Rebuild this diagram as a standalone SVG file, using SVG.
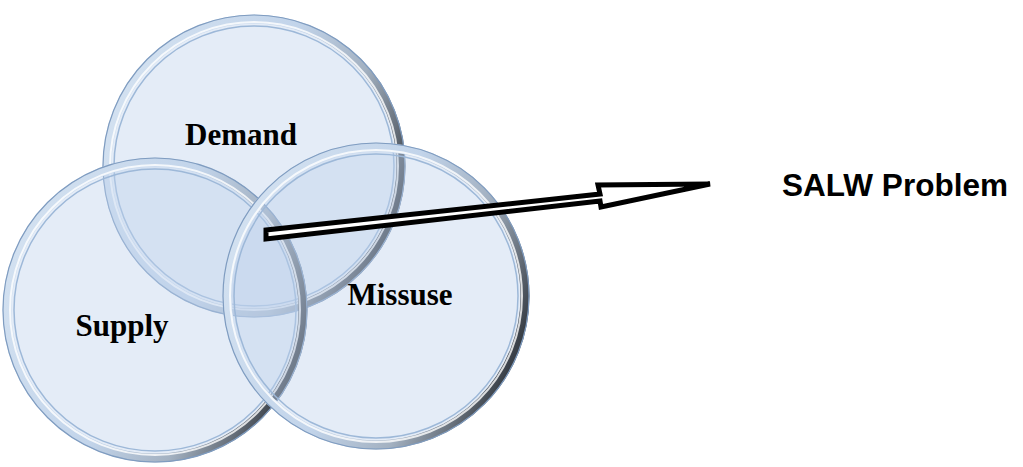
<svg xmlns="http://www.w3.org/2000/svg" width="1023" height="467" viewBox="0 0 1023 467">
<style>
.fillc{fill:rgb(190,210,235);fill-opacity:0.42}
.ring{fill:none;stroke:url(#ringg);stroke-width:9}
.hl{fill:none;stroke:#ffffff;stroke-opacity:0.8;stroke-width:2}
.inner{fill:none;stroke:#9db8d8;stroke-width:1.5}
.outer{fill:none;stroke:#7f9cc0;stroke-width:1.2}
.lbl{font-family:"Liberation Serif","Times New Roman",serif;font-weight:bold;font-size:31px;fill:#000}
.title{font-family:"Liberation Sans",Arial,sans-serif;font-weight:bold;font-size:32px;fill:#000}
</style>
<defs>
<linearGradient id="ringg" x1="0" y1="0.2" x2="1" y2="0.6">
<stop offset="0" stop-color="#d4e2f1"/>
<stop offset="0.5" stop-color="#c2d4ea"/>
<stop offset="0.75" stop-color="#a3b1c1"/>
<stop offset="0.9" stop-color="#6a737e"/>
<stop offset="1" stop-color="#3a4048"/>
</linearGradient>
</defs>
<g id="demand">
<circle class="fillc" cx="254" cy="166" r="151"/>
<circle class="ring" cx="254" cy="166" r="147"/>
<circle class="hl" cx="254" cy="166" r="144"/>
<circle class="inner" cx="254" cy="166" r="140"/>
<circle class="outer" cx="254" cy="166" r="151"/>
<text class="lbl" x="241" y="145" text-anchor="middle">Demand</text>
</g>
<g id="supply">
<circle class="fillc" cx="155" cy="310" r="152"/>
<circle class="ring" cx="155" cy="310" r="148"/>
<circle class="hl" cx="155" cy="310" r="145"/>
<circle class="inner" cx="155" cy="310" r="141"/>
<circle class="outer" cx="155" cy="310" r="152"/>
<text class="lbl" x="122" y="336" text-anchor="middle">Supply</text>
</g>
<g id="missuse">
<circle class="fillc" cx="376" cy="296" r="153"/>
<circle class="ring" cx="376" cy="296" r="149"/>
<circle class="hl" cx="376" cy="296" r="146"/>
<circle class="inner" cx="376" cy="296" r="142"/>
<circle class="outer" cx="376" cy="296" r="153"/>
<text class="lbl" x="400" y="305" text-anchor="middle">Missuse</text>
</g>
<g id="connectors">
<polygon points="266,230 600,194 598,185 710,184 601,207 600,201 266,239" fill="#ffffff" stroke="#000000" stroke-width="5" stroke-linejoin="miter"/>
</g>
<g id="salw">
<text class="title" x="782" y="196" textLength="226" lengthAdjust="spacingAndGlyphs">SALW Problem</text>
</g>
</svg>
